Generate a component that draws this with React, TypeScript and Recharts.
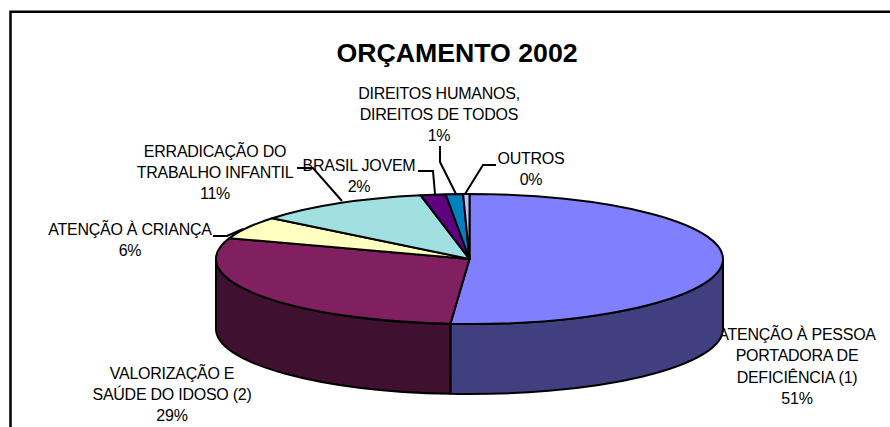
import { PieChart, Pie, Cell } from 'recharts';

const CATEGORIES = [
  'ATENÇÃO À PESSOA PORTADORA DE DEFICIÊNCIA (1)',
  'VALORIZAÇÃO E SAÚDE DO IDOSO (2)',
  'ATENÇÃO À CRIANÇA',
  'ERRADICAÇÃO DO TRABALHO INFANTIL',
  'BRASIL JOVEM',
  'DIREITOS HUMANOS, DIREITOS DE TODOS',
  'OUTROS',
];
const VALUES = [51.2, 29.0, 5.6, 11.1, 1.6, 1.1, 0.4];
const TOP_COLORS = ['#8080FF', '#802060', '#FFFFC0', '#A0E0E0', '#600080', '#0080C0', '#C0C0FF'];
const WALL_COLORS = ['#404080', '#401030', '#808060', '#507070', '#300040', '#004060', '#606080'];

const data = CATEGORIES.map((name, i) => ({ name, value: VALUES[i] }));

const WIDTH = 890;
const HEIGHT = 427;
const CX = 469.5;
const CY = 259;
const RX = 253.5;
const RY = 65;
const DEPTH = 70;
const SQUASH = RY / RX;
const FONT = '"Liberation Sans", Arial, sans-serif';
const LINE_HEIGHT = 21.3;

const rad = (deg: number) => (deg * Math.PI) / 180;
const px = (cx: number, r: number, a: number) => cx + r * Math.cos(rad(a));
const py = (cy: number, r: number, a: number) => cy - r * SQUASH * Math.sin(rad(a));

// top face of a slice: the pie's own circle sector, flattened to an ellipse
function TopFace(props: any) {
  const { cx, cy, outerRadius: r, startAngle, endAngle, fill } = props;
  const large = Math.abs(endAngle - startAngle) > 180 ? 1 : 0;
  const d = `M${cx},${cy} L${px(cx, r, startAngle)},${py(cy, r, startAngle)} A${r},${r * SQUASH} 0 ${large} 1 ${px(cx, r, endAngle)},${py(cy, r, endAngle)} Z`;
  return <path d={d} fill={fill} stroke="#000" strokeWidth={2} strokeLinejoin="round" />;
}

// side wall: only the part of the slice on the front half of the pie shows
function SideWall(props: any) {
  const { cx, cy, outerRadius: r, startAngle, endAngle, fill } = props;
  // recharts goes clockwise from 90 to -270, the front is -180..0
  const from = Math.min(startAngle, 0);
  const to = Math.max(endAngle, -180);
  if (from <= to) return null;
  const ry = r * SQUASH;
  const d = `M${px(cx, r, from)},${py(cy, r, from)} A${r},${ry} 0 0 1 ${px(cx, r, to)},${py(cy, r, to)} L${px(cx, r, to)},${py(cy, r, to) + DEPTH} A${r},${ry} 0 0 0 ${px(cx, r, from)},${py(cy, r, from) + DEPTH} Z`;
  return <path d={d} fill={fill} stroke="#000" strokeWidth={2} strokeLinejoin="round" />;
}

const LEADERS = [
  '213,236 227,236 243,229',
  '297,168 313,168 342,201',
  '418,171 433,171 435,194',
  '440,146 440,162 456,194',
  '496,165 483,165 465,194',
];

const LABELS: { x: number; y: number; lines: string[] }[] = [
  { x: 797, y: 340, lines: ['ATENÇÃO À PESSOA', 'PORTADORA DE', 'DEFICIÊNCIA (1)', '51%'] },
  { x: 172, y: 378.5, lines: ['VALORIZAÇÃO E', 'SAÚDE DO IDOSO (2)', '29%'] },
  { x: 130, y: 234.5, lines: ['ATENÇÃO À CRIANÇA', '6%'] },
  { x: 215, y: 156.5, lines: ['ERRADICAÇÃO DO', 'TRABALHO INFANTIL', '11%'] },
  { x: 359, y: 170.5, lines: ['BRASIL JOVEM', '2%'] },
  { x: 439, y: 98.5, lines: ['DIREITOS HUMANOS,', 'DIREITOS DE TODOS', '1%'] },
  { x: 531, y: 163.5, lines: ['OUTROS', '0%'] },
];

export default function App() {
  return (
    <div style={{ position: 'absolute', left: 0, top: 0, width: WIDTH, height: HEIGHT, background: '#fff', overflow: 'hidden' }}>
      <PieChart width={WIDTH} height={HEIGHT} margin={{ top: 0, right: 0, bottom: 0, left: 0 }}>
        <path d={`M10.5,${HEIGHT} V11.7 H${WIDTH}`} fill="none" stroke="#000" strokeWidth={2.5} />
        <text x={457} y={62} textAnchor="middle" fontFamily={FONT} fontWeight="bold" fontSize={26.7} fill="#000">
          ORÇAMENTO 2002
        </text>
        <Pie
          data={data}
          dataKey="value"
          nameKey="name"
          cx={CX}
          cy={CY}
          outerRadius={RX}
          startAngle={90}
          endAngle={-270}
          paddingAngle={0}
          isAnimationActive={false}
          shape={SideWall}
          legendType="none"
        >
          {WALL_COLORS.map((c, i) => (
            <Cell key={i} fill={c} />
          ))}
        </Pie>
        <Pie
          data={data}
          dataKey="value"
          nameKey="name"
          cx={CX}
          cy={CY}
          outerRadius={RX}
          startAngle={90}
          endAngle={-270}
          paddingAngle={0}
          isAnimationActive={false}
          shape={TopFace}
          legendType="none"
        >
          {TOP_COLORS.map((c, i) => (
            <Cell key={i} fill={c} />
          ))}
        </Pie>
        {LEADERS.map((p, i) => (
          <polyline key={i} points={p} fill="none" stroke="#000" strokeWidth={2} />
        ))}
        {LABELS.map((l, i) => (
          <text key={i} textAnchor="middle" fontFamily={FONT} fontSize={16} letterSpacing={-0.25} fill="#000">
            {l.lines.map((t, j) => (
              <tspan key={j} x={l.x} y={l.y + j * LINE_HEIGHT}>
                {t}
              </tspan>
            ))}
          </text>
        ))}
      </PieChart>
    </div>
  );
}
